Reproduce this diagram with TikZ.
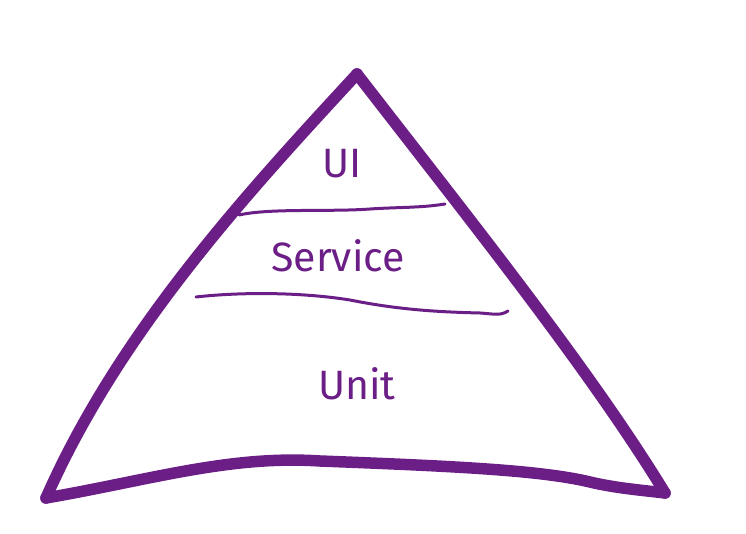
\documentclass[tikz,border=0pt]{standalone}
\usepackage{fontspec}
\setmainfont{Fira Sans}
\definecolor{pen}{RGB}{108,30,135}
\tikzset{
  edge/.style={draw=pen, line width=11.5pt, line cap=round, line join=round},
  divider/.style={draw=pen, line width=3pt, line cap=round},
  label/.style={text=pen, font=\fontsize{41}{44}\selectfont, inner sep=0pt}
}
\begin{document}
\begin{tikzpicture}[x=1pt,y=-1pt]
\useasboundingbox (0,0) rectangle (746,534);
\coordinate (apex) at (357,74);
\coordinate (bl) at (46,498);
\coordinate (br) at (665,493);
% sides
\draw[edge] (apex) .. controls (250,190) and (120,330) .. (bl);
\draw[edge] (apex) .. controls (470,220) and (590,370) .. (br);
\draw[edge] (bl) .. controls (150,480) and (230,455) .. (320,461)
  .. controls (450,466) and (540,470) .. (590,482)
  .. controls (615,488) and (640,490) .. (br);
% dividers
\coordinate (u1) at (239,215);
\coordinate (u2) at (445,204);
\draw[divider] (u1) .. controls (270,208) and (330,212) .. (370,209)
  .. controls (400,207) and (420,208) .. (u2);
\coordinate (l1) at (196,297);
\coordinate (l2) at (508,311);
\draw[divider] (l1) .. controls (240,292) and (300,292) .. (350,300)
  .. controls (400,310) and (440,312) .. (480,313)
  .. controls (495,314) and (500,316) .. (l2);
% labels
\node[label] (ui) at (342,164) {UI};
\node[label] (service) at (338,256) {Service};
\node[label] (unit) at (357,384) {Unit};
\end{tikzpicture}
\end{document}
